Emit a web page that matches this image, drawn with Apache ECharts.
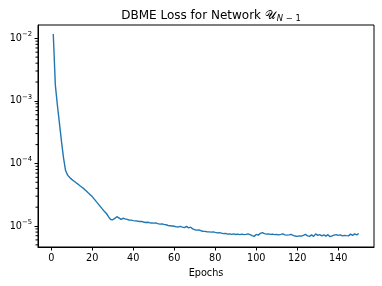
<!DOCTYPE html>
<html><head><meta charset="utf-8">
<script src="https://cdn.jsdelivr.net/npm/echarts@6/dist/echarts.min.js"></script>
<style>html,body{margin:0;padding:0;background:#fff}#c{width:382px;height:286px}</style>
</head><body><div id="c"></div>
<script>
const epochs = [
1,2,3,4,5,6,7,8,9,10,11,12,13,14,15,16,17,18,19,20,
21,22,23,24,25,26,27,28,29,30,31,32,33,34,35,36,37,38,39,40,
41,42,43,44,45,46,47,48,49,50,51,52,53,54,55,56,57,58,59,60,
61,62,63,64,65,66,67,68,69,70,71,72,73,74,75,76,77,78,79,80,
81,82,83,84,85,86,87,88,89,90,91,92,93,94,95,96,97,98,99,100,
101,102,103,104,105,106,107,108,109,110,111,112,113,114,115,116,117,118,119,120,
121,122,123,124,125,126,127,128,129,130,131,132,133,134,135,136,137,138,139,140,
141,142,143,144,145,146,147,148,149,150];
const loss = [
1.17e-2, 1.80e-3, 8.6e-4, 4.4e-4, 2.25e-4, 1.23e-4, 7.7e-5, 6.5e-5, 5.95e-5, 5.56e-5,
5.25e-5, 4.95e-5, 4.68e-5, 4.41e-5, 4.16e-5, 3.92e-5, 3.65e-5, 3.40e-5, 3.17e-5, 2.95e-5,
2.69e-5, 2.45e-5, 2.24e-5, 2.04e-5, 1.86e-5, 1.70e-5, 1.57e-5, 1.40e-5, 1.27e-5, 1.26e-5,
1.32e-5, 1.41e-5, 1.35e-5, 1.28e-5, 1.33e-5, 1.30e-5, 1.275e-5, 1.25e-5, 1.24e-5, 1.22e-5,
1.21e-5, 1.20e-5, 1.18e-5, 1.185e-5, 1.16e-5, 1.14e-5, 1.15e-5, 1.13e-5, 1.12e-5, 1.11e-5,
1.12e-5, 1.09e-5, 1.07e-5, 1.08e-5, 1.06e-5, 1.05e-5, 1.02e-5, 1.01e-5, 1.00e-5, 9.9e-6,
9.7e-6, 9.67e-6, 9.85e-6, 9.6e-6, 9.4e-6, 9.85e-6, 9.33e-6, 9.57e-6, 8.99e-6, 8.73e-6,
8.6e-6, 8.67e-6, 8.41e-6, 8.26e-6, 8.2e-6, 8.11e-6, 8.06e-6, 8.0e-6, 8.06e-6, 7.91e-6,
7.77e-6, 7.85e-6, 7.71e-6, 7.55e-6, 7.63e-6, 7.41e-6, 7.49e-6, 7.35e-6, 7.49e-6, 7.33e-6,
7.43e-6, 7.27e-6, 7.41e-6, 7.27e-6, 7.35e-6, 7.49e-6, 7.27e-6, 7.01e-6, 6.83e-6, 7.35e-6,
7.16e-6, 7.63e-6, 7.83e-6, 7.55e-6, 7.43e-6, 7.49e-6, 7.35e-6, 7.41e-6, 7.27e-6, 7.33e-6,
7.22e-6, 7.35e-6, 7.49e-6, 7.22e-6, 7.14e-6, 7.22e-6, 7.35e-6, 7.09e-6, 6.91e-6, 6.83e-6,
6.96e-6, 6.88e-6, 7.09e-6, 7.35e-6, 6.96e-6, 6.83e-6, 7.22e-6, 6.83e-6, 7.49e-6, 7.09e-6,
7.27e-6, 6.96e-6, 7.22e-6, 6.88e-6, 7.27e-6, 6.76e-6, 6.96e-6, 7.14e-6, 7.27e-6, 7.09e-6,
7.22e-6, 6.96e-6, 7.09e-6, 7.01e-6, 6.96e-6, 7.41e-6, 7.09e-6, 7.49e-6, 7.2e-6, 7.6e-6];
const xTicks = [0, 20, 40, 60, 80, 100, 120, 140];
const yMajorTicks = [1e-5, 1e-4, 1e-3, 1e-2];
const yMinorTicks = [5e-6,6e-6,7e-6,8e-6,9e-6,
  2e-5,3e-5,4e-5,5e-5,6e-5,7e-5,8e-5,9e-5,
  2e-4,3e-4,4e-4,5e-4,6e-4,7e-4,8e-4,9e-4,
  2e-3,3e-3,4e-3,5e-3,6e-3,7e-3,8e-3,9e-3];
const titleMain = 'DBME Loss for Network ';
const titleSymbol = '𝒰';
const titleSubVar = 'N';
const titleSubRest = ' − 1';
const xName = 'Epochs';

const FONT = 'DejaVu Sans';
const xMin = -6.45, xMax = 157.45;
const yMin = 4.62e-6, yMax = 1.63e-2;
const chart = echarts.init(document.getElementById('c'), null, {renderer: 'canvas'});
const axisColor = '#000';
const base = {fontFamily: FONT, fontWeight: 'normal', color: '#000'};
chart.setOption({
  animation: false,
  backgroundColor: '#fff',
  title: {
    text: '{t|' + titleMain + '}{u|' + titleSymbol + '}{si|' + titleSubVar + '}{s|' + titleSubRest + '}',
    left: 206, top: 4, textAlign: 'center',
    textStyle: {
      fontWeight: 'normal', fontFamily: FONT, color: '#000',
      rich: {
        t: Object.assign({fontSize: 12, lineHeight: 14}, base),
        u: Object.assign({fontSize: 12, lineHeight: 14}, base),
        si: Object.assign({fontSize: 8.4, lineHeight: 8, fontStyle: 'italic', padding: [6, 0, 0, 1]}, base),
        s: Object.assign({fontSize: 8.4, lineHeight: 8, padding: [6, 0, 0, 0]}, base)
      }
    }
  },
  grid: {left: 38, right: 8, top: 25, bottom: 39, show: true, borderColor: axisColor, borderWidth: 1, backgroundColor: 'transparent'},
  xAxis: {
    type: 'value', min: xMin, max: xMax,
    name: xName, nameLocation: 'middle', nameGap: 21,
    nameTextStyle: {fontFamily: FONT, fontSize: 9.7, color: '#000'},
    axisLine: {show: true, onZero: false, lineStyle: {color: axisColor, width: 1}},
    axisTick: {show: true, customValues: xTicks, length: 3.5, lineStyle: {color: axisColor, width: 1}},
    axisLabel: {customValues: xTicks, margin: 6, fontFamily: FONT, fontSize: 9.7, color: '#000'},
    splitLine: {show: false}
  },
  yAxis: {
    type: 'log', min: yMin, max: yMax, position: 'left',
    axisLine: {show: true, onZero: false, lineStyle: {color: axisColor, width: 1}},
    axisTick: {show: true, customValues: yMajorTicks, length: 3.5, lineStyle: {color: axisColor, width: 1}},
    axisLabel: {
      customValues: yMajorTicks, margin: 6,
      formatter: function (v) {
        const e = Math.round(Math.log10(v));
        return '{b|10}{s|' + (e < 0 ? '−' : '') + Math.abs(e) + '}';
      },
      rich: {
        b: {fontFamily: FONT, fontSize: 9.7, color: '#000', lineHeight: 11},
        s: {fontFamily: FONT, fontSize: 6.8, color: '#000', lineHeight: 7, padding: [0, 0, 8, 0]}
      }
    },
    splitLine: {show: false}
  },
  series: [{
    type: 'line', xAxisIndex: 0, yAxisIndex: 0,
    data: epochs.map((e, i) => [e, loss[i]]),
    showSymbol: false, symbol: 'none',
    lineStyle: {color: '#1f77b4', width: 1.4},
    silent: true
  }, {
    type: 'custom', xAxisIndex: 0, yAxisIndex: 0, clip: false, silent: true, z: 10,
    encode: {x: 0, y: 1},
    data: yMinorTicks.map(v => [xMin, v]),
    renderItem: function (params, api) {
      const p = api.coord([api.value(0), api.value(1)]);
      return {type: 'line', shape: {x1: p[0] - 2.5, y1: p[1], x2: p[0], y2: p[1]},
        style: {stroke: '#000', fill: null, lineWidth: 1}};
    }
  }]
});
</script>
</body></html>
